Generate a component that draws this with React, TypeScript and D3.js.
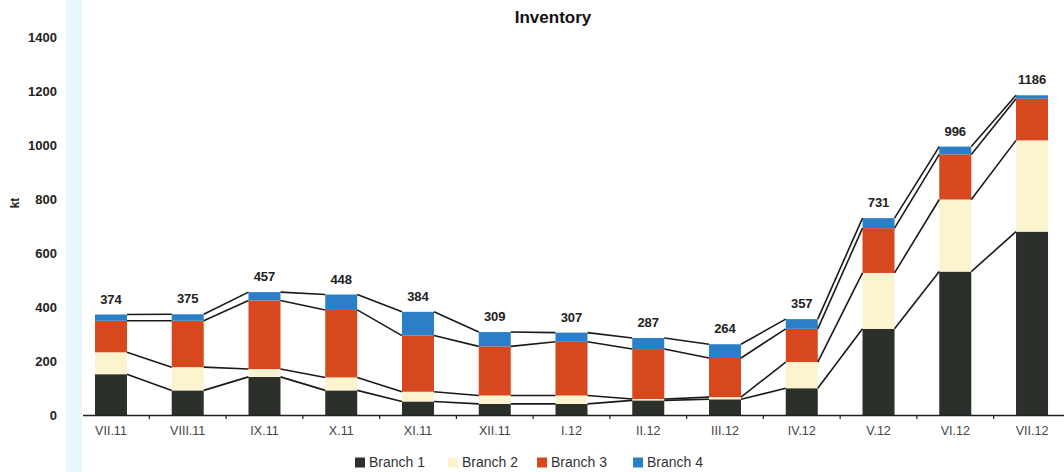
import React from "react";
import * as d3 from "d3";

const categories = ["VII.11","VIII.11","IX.11","X.11","XI.11","XII.11","I.12","II.12","III.12","IV.12","V.12","VI.12","VII.12"];
const branch1 = [153, 93, 143, 93, 52, 43, 43, 56, 60, 101, 321, 533, 681];
const branch2 = [81, 86, 29, 48, 36, 31, 31, 5, 8, 97, 207, 267, 338];
const branch3 = [117, 172, 254, 250, 208, 182, 199, 185, 145, 123, 166, 167, 154];
const branch4 = [23, 24, 31, 57, 88, 53, 34, 41, 51, 36, 37, 29, 13];
const totals = [374, 375, 457, 448, 384, 309, 307, 287, 264, 357, 731, 996, 1186];
const seriesNames = ["Branch 1", "Branch 2", "Branch 3", "Branch 4"];
const yTicks = [0, 200, 400, 600, 800, 1000, 1200, 1400];
const colors = ["#2b302b", "#fcf4cf", "#d8481f", "#2a7fc6"];

const W = 1064, H = 472;

export default function App() {
  const x = d3.scaleBand<string>().domain(categories).range([72.6, 1070.4]).paddingInner(0.583).paddingOuter(0.2915);
  const y = d3.scaleLinear().domain([0, 1400]).range([415.5, 37.5]);
  const rows = categories.map((c, i) => ({ cat: c, b1: branch1[i], b2: branch2[i], b3: branch3[i], b4: branch4[i] }));
  const stack = d3.stack<any>().keys(["b1", "b2", "b3", "b4"])(rows);
  const bw = x.bandwidth();
  const step = x.step();
  const font = "'Liberation Sans', Arial, sans-serif";

  const legendX = [355, 448, 537, 633];

  return (
    <div style={{ position: "absolute", left: 0, top: 0 }}>
      <svg width={W} height={H} style={{ display: "block", background: "#fff" }}>
        <rect x={66} y={0} width={16} height={H} fill="#eaf7fa" />
        <text x={553} y={23} textAnchor="middle" fontFamily={font} fontWeight="bold" fontSize={17} fill="#111">Inventory</text>
        <text transform="translate(19,203) rotate(-90)" textAnchor="middle" fontFamily={font} fontWeight="bold" fontSize={12} fill="#222">kt</text>
        {yTicks.map(t => (
          <text key={t} x={57} y={y(t)} dy="0.35em" textAnchor="end" fontFamily={font} fontWeight="bold" fontSize={13} fill="#222">{t}</text>
        ))}
        {/* bars */}
        {stack.map((s, si) => (
          <g key={si}>
            {s.map((d, i) => (
              <rect key={i} x={x(categories[i])!} y={y(d[1])} width={bw} height={y(d[0]) - y(d[1])} fill={colors[si]} />
            ))}
          </g>
        ))}
        {/* series lines */}
        {stack.map((s, si) => (
          <g key={"l" + si}>
            {s.slice(0, -1).map((d, i) => (
              <line key={i}
                x1={x(categories[i])! + bw} y1={y(d[1])}
                x2={x(categories[i + 1])!} y2={y(s[i + 1][1])}
                stroke="#1a1a1a" strokeWidth={1.6} />
            ))}
          </g>
        ))}
        {/* axis */}
        <line x1={83} x2={W} y1={415.5} y2={415.5} stroke="#222" strokeWidth={1.6} />
        {categories.slice(1).map((c, i) => (
          <line key={c} x1={x(c)! - (step - bw) / 2} x2={x(c)! - (step - bw) / 2} y1={415.5} y2={419} stroke="#222" strokeWidth={1.2} />
        ))}
        {categories.map(c => (
          <text key={c} x={x(c)! + bw / 2} y={435} textAnchor="middle" fontFamily={font} fontSize={12.5} fill="#444">{c}</text>
        ))}
        {totals.map((t, i) => (
          <text key={i} x={x(categories[i])! + bw / 2} y={y(stack[3][i][1]) - 11} textAnchor="middle" fontFamily={font} fontWeight="bold" fontSize={13} fill="#222">{t}</text>
        ))}
        {/* legend */}
        {seriesNames.map((n, i) => (
          <g key={n}>
            <rect x={legendX[i]} y={457.5} width={10} height={10} fill={colors[i]} />
            <text x={legendX[i] + 14} y={467} fontFamily={font} fontSize={14} fill="#333">{n}</text>
          </g>
        ))}
      </svg>
    </div>
  );
}
